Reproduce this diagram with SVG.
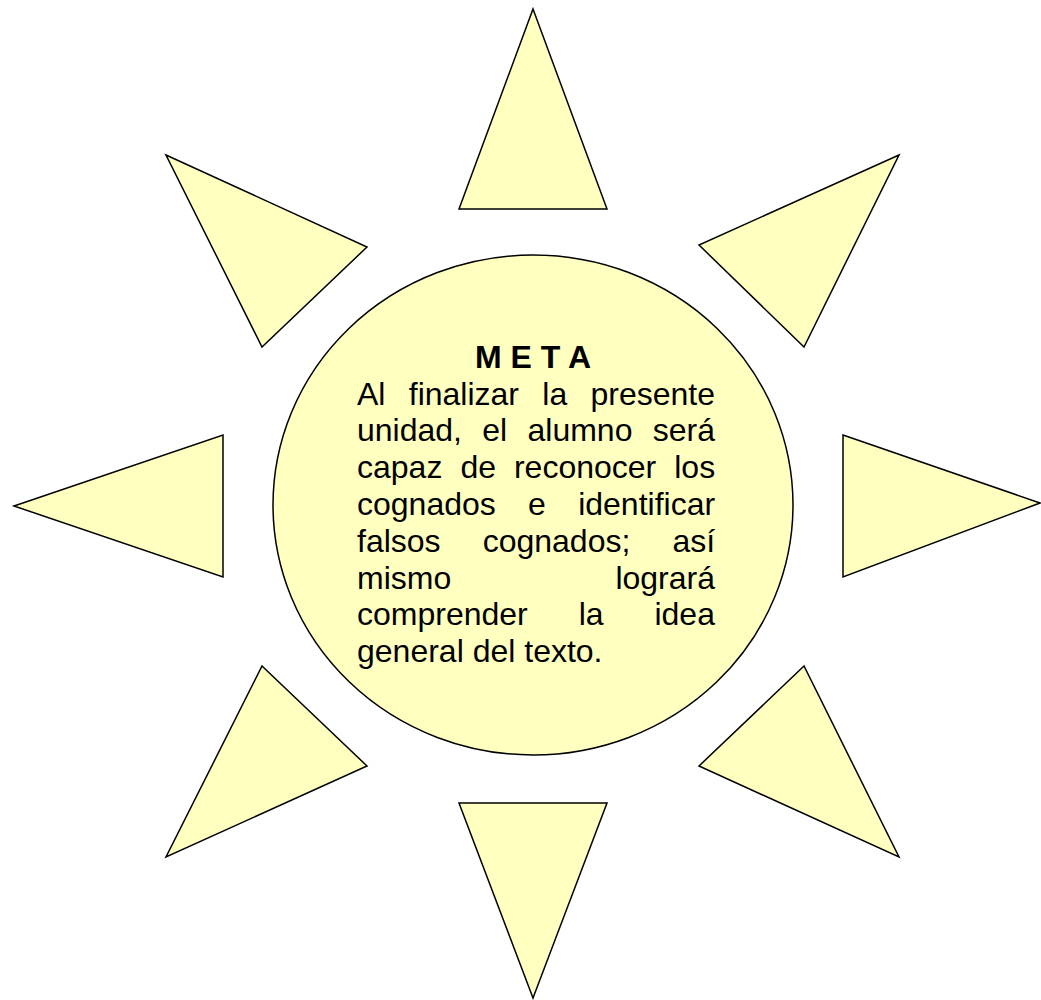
<svg xmlns="http://www.w3.org/2000/svg" width="1041" height="1000" viewBox="0 0 1041 1000">
<style>
.ray{fill:#FFFFC0;stroke:#000;stroke-width:1.5;stroke-linejoin:miter}
.body{font-family:"Liberation Sans",Arial,sans-serif;font-size:32px;fill:#000}
.title{font-family:"Liberation Sans",Arial,sans-serif;font-size:32px;font-weight:bold;fill:#000}
</style>
<rect width="1041" height="1000" fill="#fff"/>
<g id="ray-top"><polygon class="ray" points="533,9 607,209 459,209"/></g>
<g id="ray-bottom"><polygon class="ray" points="459,803 607,803 533,998"/></g>
<g id="ray-left"><polygon class="ray" points="14,506 223,435 223,577"/></g>
<g id="ray-right"><polygon class="ray" points="843,435 1040,503 843,577"/></g>
<g id="ray-upper-left"><polygon class="ray" points="166,155 367,247 262,347"/></g>
<g id="ray-upper-right"><polygon class="ray" points="899,155 699,245 804,347"/></g>
<g id="ray-lower-left"><polygon class="ray" points="262,666 367,766 166,857"/></g>
<g id="ray-lower-right"><polygon class="ray" points="804,666 699,766 899,857"/></g>
<g id="center">
<ellipse class="ray" cx="533" cy="505" rx="260" ry="250"/>
<text class="title" x="533" y="368" text-anchor="middle">M E T A</text>
<text class="body" x="357" y="404.5" word-spacing="14.4">Al finalizar la presente</text>
<text class="body" x="357" y="441.3" word-spacing="11.4">unidad, el alumno será</text>
<text class="body" x="357" y="478.1" word-spacing="9.1">capaz de reconocer los</text>
<text class="body" x="357" y="514.9" word-spacing="23.4">cognados e identificar</text>
<text class="body" x="357" y="551.7" word-spacing="33.2">falsos cognados; así</text>
<text class="body" x="357" y="588.5" word-spacing="155.3">mismo logrará</text>
<text class="body" x="357" y="625.3" word-spacing="42">comprender la idea</text>
<text class="body" x="357" y="662.1">general del texto.</text>
</g>
</svg>
